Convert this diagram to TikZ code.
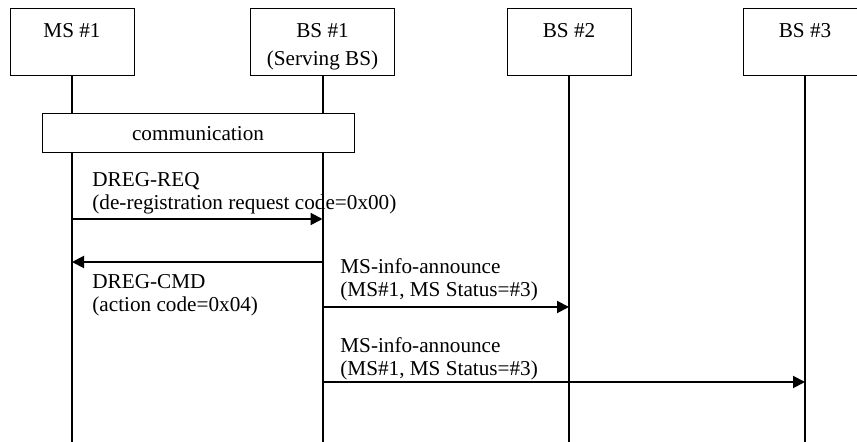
\documentclass[tikz,border=0pt]{standalone}
\usepackage{fontspec}
\setmainfont{Liberation Serif}
\usetikzlibrary{arrows.meta,positioning}

\newcommand{\boxtext}[2]{\rule{0pt}{10.8pt}#1\\[2.5pt]#2\vphantom{()}}

\tikzset{
	entity/.style={draw,line width=0.5pt,fill=white,minimum width=62pt,minimum height=33.5pt,align=center,inner sep=0pt},
	life/.style={line width=1pt},
	msg/.style={line width=1pt,-{Triangle[length=6pt,width=6pt]}},
	lbl/.style={anchor=base west,align=left,inner sep=0pt},
}

\begin{document}
\begin{tikzpicture}[x=0.5pt,y=-0.5pt,font=\fontsize{10.6}{11.5}\selectfont]
	\useasboundingbox (0,0) rectangle (857,442);
	\clip (0,0) rectangle (857,442);
	\coordinate (bottom) at (0,442);
	\node[entity] (ms1) at (72,42.5) {\boxtext{MS \#1}{}};
	\node[entity,minimum width=72pt] (bs1) at (322.5,42.5) {\boxtext{BS \#1}{(Serving BS)}};
	\node[entity] (bs2) at (569,42.5) {\boxtext{BS \#2}{}};
	\node[entity] (bs3) at (805,42.5) {\boxtext{BS \#3}{}};
	\draw[life] (ms1.south) -- (ms1.south |- bottom);
	\draw[life] (bs1.south) -- (bs1.south |- bottom);
	\draw[life] (bs2.south) -- (bs2.south |- bottom);
	\draw[life] (bs3.south) -- (bs3.south |- bottom);
	\node[entity,minimum width=156pt,minimum height=19.5pt] (comm) at (198,133.5) {communication};
	\coordinate (req) at (0,219);
	\coordinate (cmd) at (0,262);
	\coordinate (ann1) at (0,307);
	\coordinate (ann2) at (0,382);
	\draw[msg] (ms1 |- req) -- (bs1 |- req);
	\draw[msg] (bs1 |- cmd) -- (ms1 |- cmd);
	\draw[msg] (bs1 |- ann1) -- (bs2 |- ann1);
	\draw[msg] (bs1 |- ann2) -- (bs3 |- ann2);
	\node[lbl] (reqlbl) at (92,210) {DREG-REQ\\(de-registration request code=0x00)};
	\node[lbl] (cmdlbl) at (92,312) {DREG-CMD\\(action code=0x04)};
	\node[lbl] (ann1lbl) at (340,297) {MS-info-announce\\(MS\#1, MS Status=\#3)};
	\node[lbl] (ann2lbl) at (340,376) {MS-info-announce\\(MS\#1, MS Status=\#3)};
\end{tikzpicture}
\end{document}
